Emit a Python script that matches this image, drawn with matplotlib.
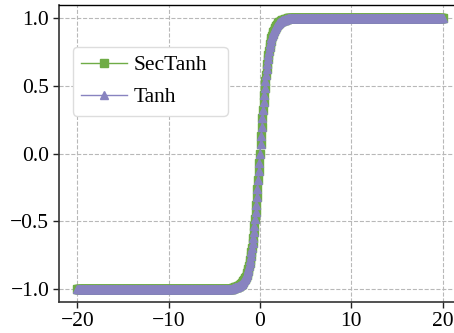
import numpy as np
import matplotlib
matplotlib.use("Agg")
import matplotlib.pyplot as plt

# sampling grid of the curves (x from -20 to 20)
x_start, x_end, n_points = -20, 20, 601

# values read in the transition region (x = -3 ... 3, step 1/15)
tanh_mid = [-0.995, -0.994, -0.994, -0.993, -0.992, -0.99, -0.989, -0.987, -0.986, -0.984,
            -0.981, -0.979, -0.976, -0.972, -0.968, -0.964, -0.959, -0.953, -0.947, -0.939,
            -0.931, -0.922, -0.911, -0.899, -0.885, -0.87, -0.853, -0.834, -0.812, -0.788,
            -0.762, -0.732, -0.7, -0.664, -0.625, -0.583, -0.537, -0.488, -0.436, -0.38,
            -0.322, -0.261, -0.197, -0.133, -0.067, 0.0, 0.067, 0.133, 0.197, 0.261,
            0.322, 0.38, 0.436, 0.488, 0.537, 0.583, 0.625, 0.664, 0.7, 0.732,
            0.762, 0.788, 0.812, 0.834, 0.853, 0.87, 0.885, 0.899, 0.911, 0.922,
            0.931, 0.939, 0.947, 0.953, 0.959, 0.964, 0.968, 0.972, 0.976, 0.979,
            0.981, 0.984, 0.986, 0.987, 0.989, 0.99, 0.992, 0.993, 0.994, 0.994, 0.995]
sectanh_mid = list(tanh_mid)
low_level, high_level = -1.0, 1.0   # flat tails

x = np.linspace(x_start, x_end, n_points)
n_tail = (n_points - len(tanh_mid)) // 2
tanh_y = np.array([low_level] * n_tail + tanh_mid + [high_level] * n_tail)
sectanh_y = np.array([low_level] * n_tail + sectanh_mid + [high_level] * n_tail)

series_labels = ["SecTanh", "Tanh"]
x_ticks = [-20, -10, 0, 10, 20]
y_ticks = [-1.0, -0.5, 0.0, 0.5, 1.0]

plt.rcParams['font.family'] = ['Liberation Serif', 'DejaVu Serif']
plt.rcParams['axes.unicode_minus'] = True

fig = plt.figure(figsize=(4.54, 3.33), dpi=100)
ax = fig.add_axes([0.130, 0.093, 0.885, 0.892])

green = '#6fac46'
purple = '#8883c0'
ax.plot(x, sectanh_y, color=green, marker='s', markersize=5.2, linewidth=1.0,
        label=series_labels[0], zorder=3)
ax.plot(x, tanh_y, color=purple, marker='^', markersize=5.6, linewidth=1.0,
        label=series_labels[1], zorder=4)

ax.set_xlim(-22, 22)
ax.set_ylim(-1.1, 1.1)
ax.set_xticks(x_ticks)
ax.set_yticks(y_ticks)
ax.set_yticklabels([f"{v:.1f}".replace('-', '\u2212') for v in y_ticks])
ax.tick_params(axis='both', labelsize=15.5, length=4, width=1, colors='#222222',
               labelcolor='black', direction='out', pad=3)
ax.grid(True, linestyle='--', color='#b8b8b8', linewidth=0.8)
ax.set_axisbelow(True)
for side in ['left', 'bottom']:
    ax.spines[side].set_color('#333333')
    ax.spines[side].set_linewidth(1.2)
ax.spines['top'].set_color('black')
ax.spines['top'].set_linewidth(1.0)
ax.spines['right'].set_visible(False)

leg = ax.legend(loc='upper left', bbox_to_anchor=(0.034, 0.0, 0.386, 0.86),
                mode='expand', borderaxespad=0,
                fontsize=15.5, handlelength=2.1, handletextpad=0.35,
                labelspacing=0.55, framealpha=1, edgecolor='#dddddd', fancybox=True)

fig.savefig('out.png', dpi=100)
